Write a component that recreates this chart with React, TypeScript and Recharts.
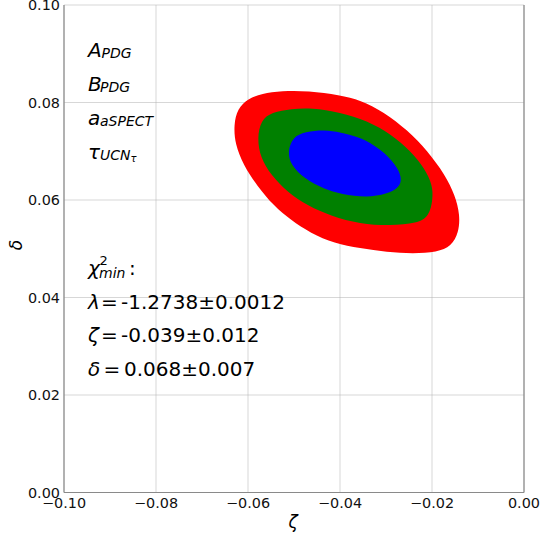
import React from 'react';
import {
  ScatterChart,
  Scatter,
  XAxis,
  YAxis,
  CartesianGrid,
  ReferenceLine,
  Customized,
} from 'recharts';

// ---- data ----
const xTicks = [-0.1, -0.08, -0.06, -0.04, -0.02, 0.0];
const yTicks = [0.0, 0.02, 0.04, 0.06, 0.08, 0.1];

// 3-sigma contour (red)
const redZeta = [
  -0.0631, -0.0623, -0.06, -0.057, -0.0527, -0.0469, -0.04, -0.0356, -0.0305, -0.0253,
  -0.021, -0.0172, -0.015, -0.0139, -0.0142, -0.0158, -0.0189, -0.0241, -0.0298, -0.0357,
  -0.0412, -0.0464, -0.0507, -0.0544, -0.0581, -0.061, -0.0628,
];
const redDelta = [
  0.0754, 0.0787, 0.0808, 0.0818, 0.0824, 0.0824, 0.0815, 0.0805, 0.0781, 0.0743,
  0.0701, 0.0652, 0.061, 0.0569, 0.0533, 0.0505, 0.0493, 0.049, 0.0493, 0.0501,
  0.0511, 0.0532, 0.0559, 0.0588, 0.063, 0.0672, 0.0714,
];

// 2-sigma contour (green)
const greenZeta = [
  -0.058, -0.0572, -0.0549, -0.0505, -0.0462, -0.04, -0.0341, -0.0289, -0.0246, -0.0216,
  -0.0199, -0.0198, -0.0206, -0.0232, -0.0291, -0.0357, -0.0419, -0.047, -0.0514, -0.055,
  -0.0573,
];
const greenDelta = [
  0.0727, 0.0763, 0.078, 0.0787, 0.0789, 0.078, 0.0763, 0.0735, 0.07, 0.0665,
  0.0631, 0.0602, 0.0567, 0.0552, 0.0547, 0.0551, 0.0567, 0.0588, 0.0616, 0.0651,
  0.0687,
];

// 1-sigma contour (blue)
const blueZeta = [
  -0.0514, -0.0503, -0.0476, -0.0433, -0.04, -0.0356, -0.0311, -0.0278, -0.0265, -0.0271,
  -0.0298, -0.0342, -0.0397, -0.0434, -0.0478, -0.0507,
];
const blueDelta = [
  0.0699, 0.0729, 0.074, 0.0744, 0.0739, 0.0729, 0.0704, 0.0672, 0.0645, 0.0626,
  0.0612, 0.0605, 0.0612, 0.0622, 0.0644, 0.0672,
];

const toPoints = (zs: number[], ds: number[]) => zs.map((z, i) => ({ z, d: ds[i] }));
const redData = toPoints(redZeta, redDelta);
const greenData = toPoints(greenZeta, greenDelta);
const blueData = toPoints(blueZeta, blueDelta);

const datasetLabels = [
  { main: 'A', sub: 'PDG' },
  { main: 'B', sub: 'PDG' },
  { main: 'a', sub: 'aSPECT' },
  { main: 'τ', sub: 'UCN', subsub: 'τ' },
];
const fitResults = [
  { sym: 'λ', value: '-1.2738±0.0012' },
  { sym: 'ζ', value: '-0.039±0.012' },
  { sym: 'δ', value: '0.068±0.007' },
];

const FONT = "'DejaVu Sans', sans-serif";

const fmtTick = (v: number) => {
  const s = Math.abs(v).toFixed(2);
  return v < -1e-9 ? '\u2212' + s : s;
};

const NoDot = () => <g />;

function Annotations() {
  const baselines = [57, 90.5, 124.5, 158.5];
  const fitBase = [308.5, 342, 375.5];
  const eqX = [101, 101, 103.5];
  const valX = [121, 121, 124];
  return (
    <g fontFamily={FONT} fill="#000">
      {datasetLabels.map((l, i) => (
        <text key={l.main + i} x={88} y={baselines[i]} fontSize={20}>
          <tspan fontStyle="italic">{l.main}</tspan>
          <tspan fontStyle="italic" fontSize={14} x={i === 0 ? 101.5 : 100} y={baselines[i] + 1}>
            {l.sub}
          </tspan>
          {l.subsub ? (
            <tspan fontStyle="italic" fontSize={10} y={baselines[i] + 3}>
              {l.subsub}
            </tspan>
          ) : null}
        </text>
      ))}
      <text x={88} y={275} fontSize={20} fontStyle="italic">
        χ
      </text>
      <text x={99.5} y={264.5} fontSize={13}>
        2
      </text>
      <text x={99} y={278} fontSize={14} fontStyle="italic">
        min
      </text>
      <text x={129} y={275} fontSize={20}>
        :
      </text>
      {fitResults.map((f, i) => (
        <text key={f.sym} y={fitBase[i]} fontSize={20}>
          <tspan x={88} fontStyle="italic">
            {f.sym}
          </tspan>
          <tspan x={eqX[i]}>=</tspan>
          <tspan x={valX[i]}>{f.value}</tspan>
        </text>
      ))}
      <text x={293} y={528} fontSize={17} fontStyle="italic" textAnchor="middle">
        ζ
      </text>
      <text
        x={22}
        y={245}
        fontSize={17}
        fontStyle="italic"
        textAnchor="middle"
        transform="rotate(-90 22 245)"
      >
        δ
      </text>
    </g>
  );
}

export default function App() {
  return (
    <div style={{ position: 'absolute', left: 0, top: 0, width: 540, height: 538, background: '#fff' }}>
      <ScatterChart
        width={540}
        height={538}
        margin={{ top: 5, right: 16, bottom: 15.5, left: 8 }}
        style={{ fontFamily: FONT }}
      >
        <XAxis
          type="number"
          dataKey="z"
          domain={[-0.1, 0]}
          ticks={xTicks}
          allowDataOverflow
          tickFormatter={fmtTick}
          height={30}
          tickSize={3}
          tickMargin={2}
          tickLine={false}
          axisLine={{ stroke: '#8a8a8a', strokeWidth: 1.2 }}
          tick={{ fill: '#111', fontSize: 14.4, fontFamily: FONT }}
          interval={0}
        />
        <YAxis
          type="number"
          dataKey="d"
          domain={[0, 0.1]}
          ticks={yTicks}
          allowDataOverflow
          tickFormatter={fmtTick}
          width={56}
          tickSize={2}
          tickMargin={2}
          tickLine={false}
          axisLine={{ stroke: '#8a8a8a', strokeWidth: 1.2 }}
          tick={{ fill: '#111', fontSize: 14.4, fontFamily: FONT }}
          interval={0}
        />
        <Scatter
          data={redData}
          fill="#ff0000"
          shape={NoDot}
          line={{ fill: '#ff0000', stroke: 'none' }}
          lineType="joint"
          lineJointType="basisClosed"
          isAnimationActive={false}
        />
        <Scatter
          data={greenData}
          fill="#008000"
          shape={NoDot}
          line={{ fill: '#008000', stroke: 'none' }}
          lineType="joint"
          lineJointType="basisClosed"
          isAnimationActive={false}
        />
        <Scatter
          data={blueData}
          fill="#0000ff"
          shape={NoDot}
          line={{ fill: '#0000ff', stroke: 'none' }}
          lineType="joint"
          lineJointType="basisClosed"
          isAnimationActive={false}
        />
        <CartesianGrid stroke="#b0b0b0" strokeOpacity={0.5} strokeWidth={1} />
        <ReferenceLine x={0} stroke="#8a8a8a" strokeWidth={1.2} />
        <Customized component={<Annotations />} />
      </ScatterChart>
    </div>
  );
}
